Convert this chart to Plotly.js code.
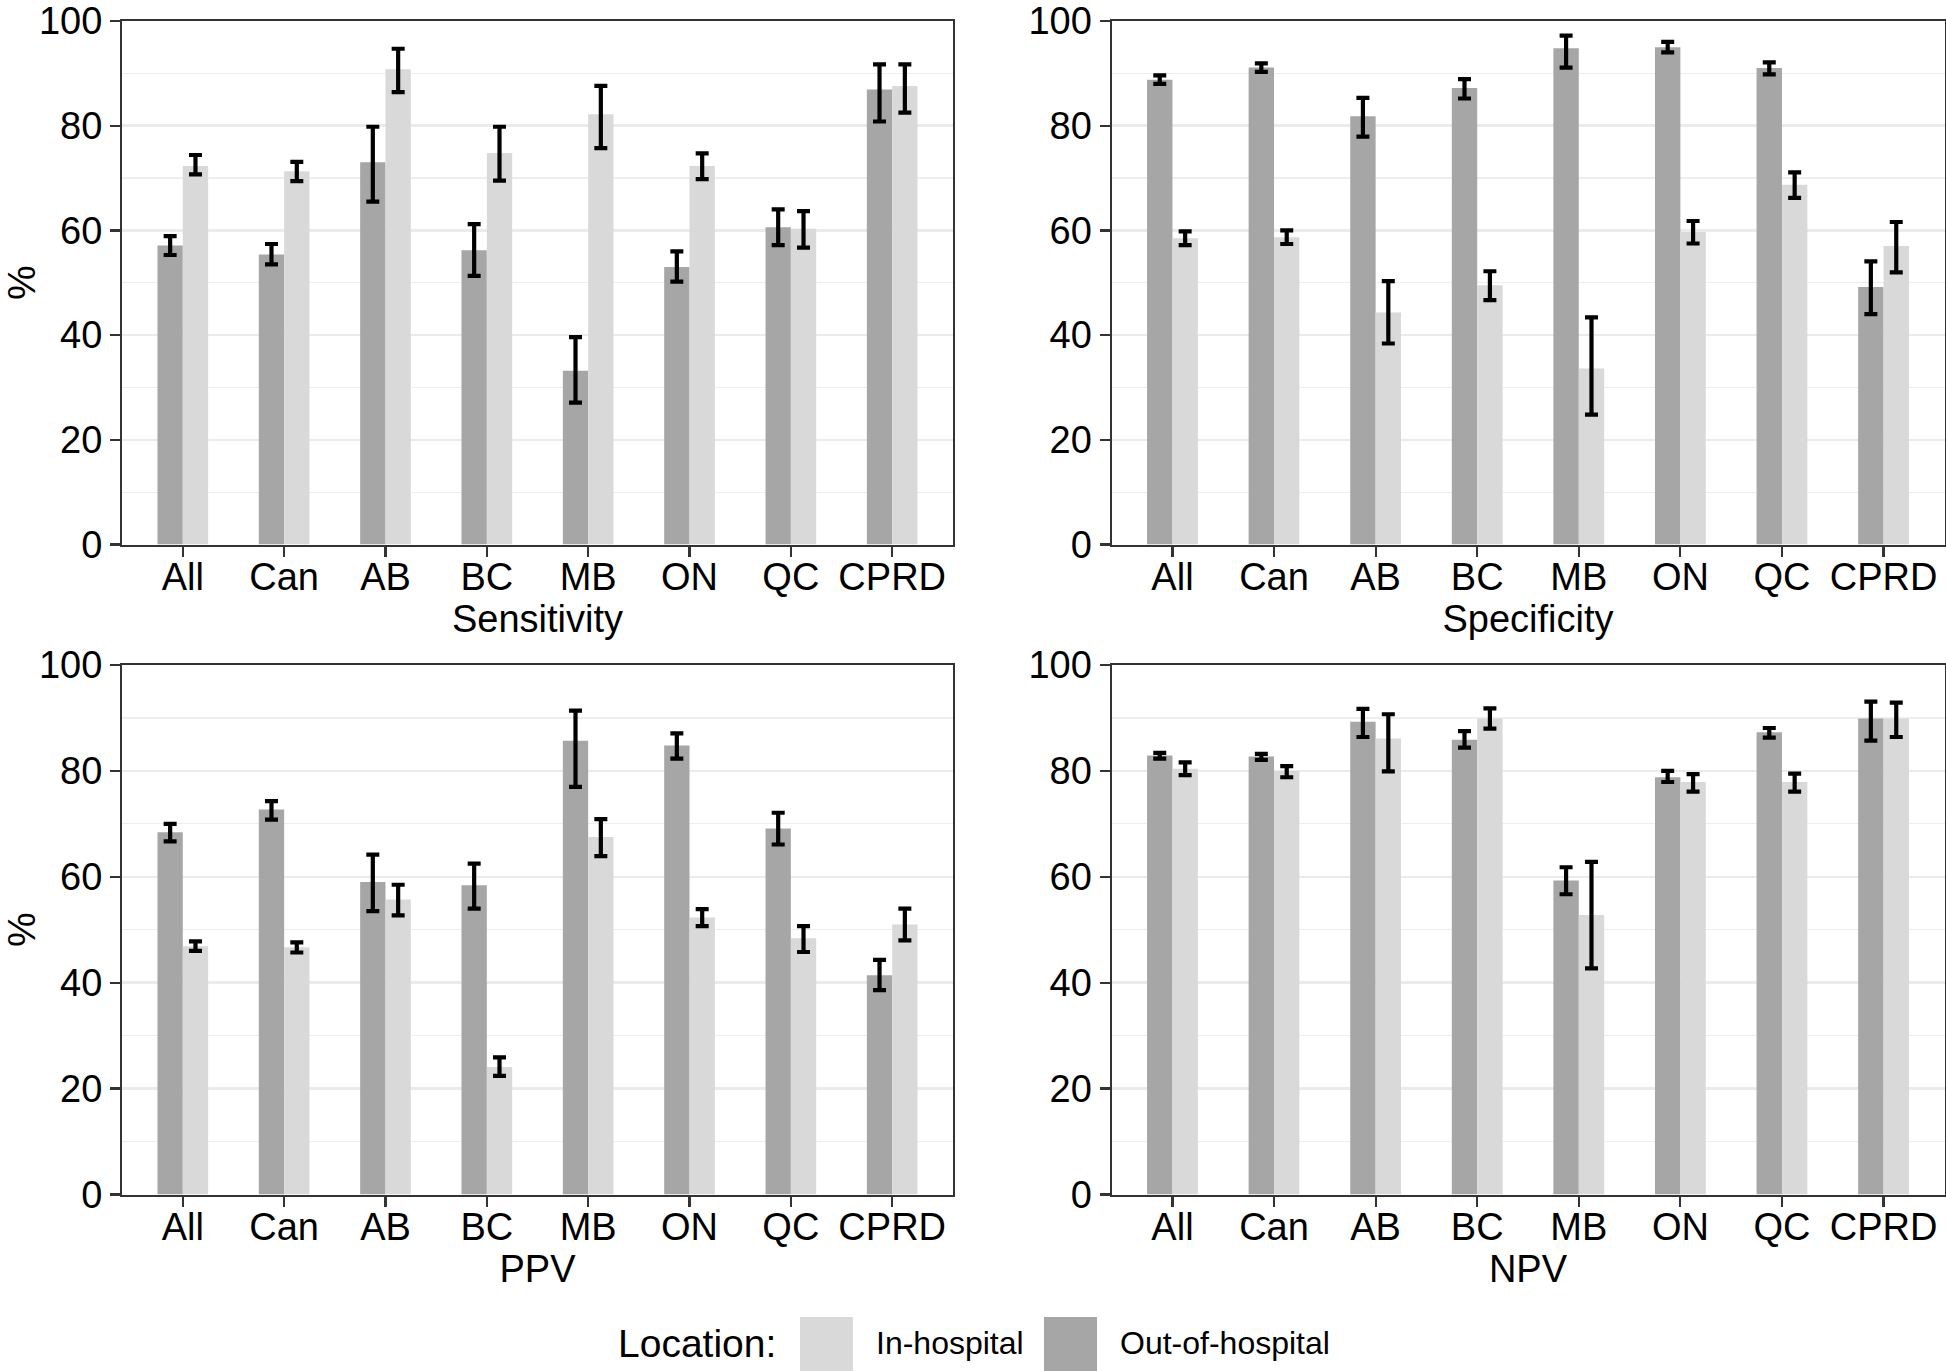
<!DOCTYPE html>
<html>
<head>
<meta charset="utf-8">
<script src="https://cdn.plot.ly/plotly-3.0.1.min.js"></script>
<style>html,body{margin:0;padding:0;background:#fff;}#chart{width:1946px;height:1371px;}</style>
</head>
<body>
<div id="chart"></div>
<script>
const categories = ['All','Can','AB','BC','MB','ON','QC','CPRD'];
const yTickVals = [0,20,40,60,80,100];
const panelTitles = ['Sensitivity','Specificity','PPV','NPV'];
const seriesNames = ['Out-of-hospital','In-hospital'];
const legendTitle = 'Location:';

// Sensitivity
const sens_out    = [57.1,55.4,73.0,56.2,33.2,53.0,60.6,86.9];
const sens_out_lo = [55.3,53.5,65.5,51.3,27.1,50.2,57.2,80.8];
const sens_out_hi = [58.9,57.4,79.8,61.2,39.6,56.0,64.0,91.7];
const sens_in     = [72.3,71.3,90.8,74.8,82.2,72.3,60.3,87.6];
const sens_in_lo  = [70.7,69.4,86.4,69.5,75.7,69.8,56.7,82.5];
const sens_in_hi  = [74.4,73.1,94.7,79.8,87.6,74.7,63.7,91.7];
// Specificity
const spec_out    = [88.8,91.1,81.8,87.2,94.8,95.0,91.0,49.2];
const spec_out_lo = [88.0,90.3,77.9,85.2,91.1,94.0,89.8,44.0];
const spec_out_hi = [89.6,91.9,85.3,88.9,97.2,96.0,92.1,54.1];
const spec_in     = [58.5,58.7,44.3,49.5,33.6,59.7,68.7,57.0];
const spec_in_lo  = [57.2,57.4,38.4,46.7,24.8,57.5,66.2,52.0];
const spec_in_hi  = [59.8,60.0,50.3,52.2,43.4,61.8,71.1,61.6];
// PPV
const ppv_out     = [68.4,72.7,59.0,58.4,85.7,84.8,69.1,41.4];
const ppv_out_lo  = [66.7,70.8,53.5,54.0,77.0,82.3,66.1,38.6];
const ppv_out_hi  = [70.0,74.3,64.2,62.5,91.4,87.1,72.1,44.3];
const ppv_in      = [46.9,46.7,55.7,24.1,67.5,52.3,48.4,51.0];
const ppv_in_lo   = [46.0,45.7,52.7,22.4,63.9,50.7,45.8,48.0];
const ppv_in_hi   = [47.8,47.6,58.5,25.9,70.9,53.9,50.7,54.0];
// NPV
const npv_out     = [82.9,82.7,89.3,85.9,59.3,78.8,87.3,89.9];
const npv_out_lo  = [82.3,82.1,86.4,84.4,56.7,77.9,86.3,85.7];
const npv_out_hi  = [83.4,83.2,91.7,87.5,61.8,80.0,88.1,93.1];
const npv_in      = [80.4,80.0,86.1,89.9,52.8,77.9,77.9,89.9];
const npv_in_lo   = [79.2,78.8,79.9,88.0,42.7,76.1,76.1,86.4];
const npv_in_hi   = [81.6,80.9,90.7,91.8,62.8,79.4,79.5,92.9];

const panels = [
  {out:sens_out,outLo:sens_out_lo,outHi:sens_out_hi,inn:sens_in,inLo:sens_in_lo,inHi:sens_in_hi},
  {out:spec_out,outLo:spec_out_lo,outHi:spec_out_hi,inn:spec_in,inLo:spec_in_lo,inHi:spec_in_hi},
  {out:ppv_out,outLo:ppv_out_lo,outHi:ppv_out_hi,inn:ppv_in,inLo:ppv_in_lo,inHi:ppv_in_hi},
  {out:npv_out,outLo:npv_out_lo,outHi:npv_out_hi,inn:npv_in,inLo:npv_in_lo,inHi:npv_in_hi}
];

const W = 1946, H = 1371;
const COL_OUT = '#A6A6A6', COL_IN = '#D9D9D9';
const FONT = 'Liberation Sans, Arial, Helvetica, sans-serif';

const px = v => v / W;
const py = v => 1 - v / H;
const xDomains = [[px(122), px(953)], [px(1111.5), px(1944.5)]];
const yDomains = [[py(544.5), py(21)], [py(1194.5), py(665)]];

function errArrays(v, lo, hi) {
  return {
    type: 'data', symmetric: false,
    array: v.map((d, i) => +(hi[i] - d).toFixed(2)),
    arrayminus: v.map((d, i) => +(d - lo[i]).toFixed(2)),
    color: '#000', thickness: 4.2, width: 6.5
  };
}

const data = [];
const layout = {
  width: W, height: H,
  margin: {l: 0, r: 0, t: 0, b: 0},
  paper_bgcolor: '#fff', plot_bgcolor: '#fff',
  barmode: 'group', bargap: 0.5, bargroupgap: 0,
  showlegend: false,
  font: {family: FONT, color: '#000', size: 38},
  shapes: [], annotations: []
};

panels.forEach((p, k) => {
  const n = k + 1;
  const xa = 'x' + (n === 1 ? '' : n), ya = 'y' + (n === 1 ? '' : n);
  data.push({type: 'bar', name: seriesNames[0], x: categories, y: p.out, xaxis: xa, yaxis: ya,
    marker: {color: COL_OUT, line: {width: 0}}, error_y: errArrays(p.out, p.outLo, p.outHi), hoverinfo: 'y'});
  data.push({type: 'bar', name: seriesNames[1], x: categories, y: p.inn, xaxis: xa, yaxis: ya,
    marker: {color: COL_IN, line: {width: 0}}, error_y: errArrays(p.inn, p.inLo, p.inHi), hoverinfo: 'y'});
  const col = k % 2, row = Math.floor(k / 2);
  layout['xaxis' + (n === 1 ? '' : n)] = {
    domain: xDomains[col], anchor: ya, type: 'category', range: [-0.6, 7.6],
    showline: true, mirror: true, linecolor: '#333333', linewidth: 2,
    ticks: 'outside', ticklen: 10, tickwidth: 2.2, tickcolor: '#333333',
    ticklabelstandoff: -12,
    showgrid: false, zeroline: false, fixedrange: true,
    tickfont: {family: FONT, size: 38, color: '#000'},
    title: {text: panelTitles[k], font: {family: FONT, size: 38, color: '#000'}, standoff: 0}
  };
  layout['yaxis' + (n === 1 ? '' : n)] = {
    domain: yDomains[row], anchor: xa, range: [0, 100],
    tickvals: yTickVals, ticktext: yTickVals.map(String),
    showline: true, mirror: true, linecolor: '#333333', linewidth: 2,
    ticks: 'outside', ticklen: 10, tickwidth: 2.2, tickcolor: '#333333',
    ticklabeloverflow: 'allow',
    showgrid: true, gridcolor: '#EBEBEB', gridwidth: 2.5,
    minor: {dtick: 10, tick0: 0, showgrid: true, gridcolor: '#EEEEEE', gridwidth: 1.3, ticks: ''},
    zeroline: false, fixedrange: true,
    tickfont: {family: FONT, size: 38, color: '#000'},
    title: col === 0 ? {text: '%', font: {family: FONT, size: 39, color: '#000'}, standoff: 28} : {text: ''}
  };
});

// Legend (custom, large keys)
const legY = 1343;
layout.annotations.push({xref: 'paper', yref: 'paper', x: px(616), y: py(legY), xanchor: 'left', yanchor: 'middle',
  text: legendTitle, showarrow: false, font: {family: FONT, size: 39, color: '#000'}});
layout.shapes.push({type: 'rect', xref: 'paper', yref: 'paper', x0: px(800), x1: px(853), y0: py(1371), y1: py(1317),
  fillcolor: COL_IN, line: {width: 0}});
layout.annotations.push({xref: 'paper', yref: 'paper', x: px(874), y: py(legY), xanchor: 'left', yanchor: 'middle',
  text: seriesNames[1], showarrow: false, font: {family: FONT, size: 32, color: '#000'}});
layout.shapes.push({type: 'rect', xref: 'paper', yref: 'paper', x0: px(1044), x1: px(1097), y0: py(1371), y1: py(1317),
  fillcolor: COL_OUT, line: {width: 0}});
layout.annotations.push({xref: 'paper', yref: 'paper', x: px(1118), y: py(legY), xanchor: 'left', yanchor: 'middle',
  text: seriesNames[0], showarrow: false, font: {family: FONT, size: 32, color: '#000'}});

Plotly.newPlot('chart', data, layout, {staticPlot: true, displayModeBar: false});
</script>
</body>
</html>
